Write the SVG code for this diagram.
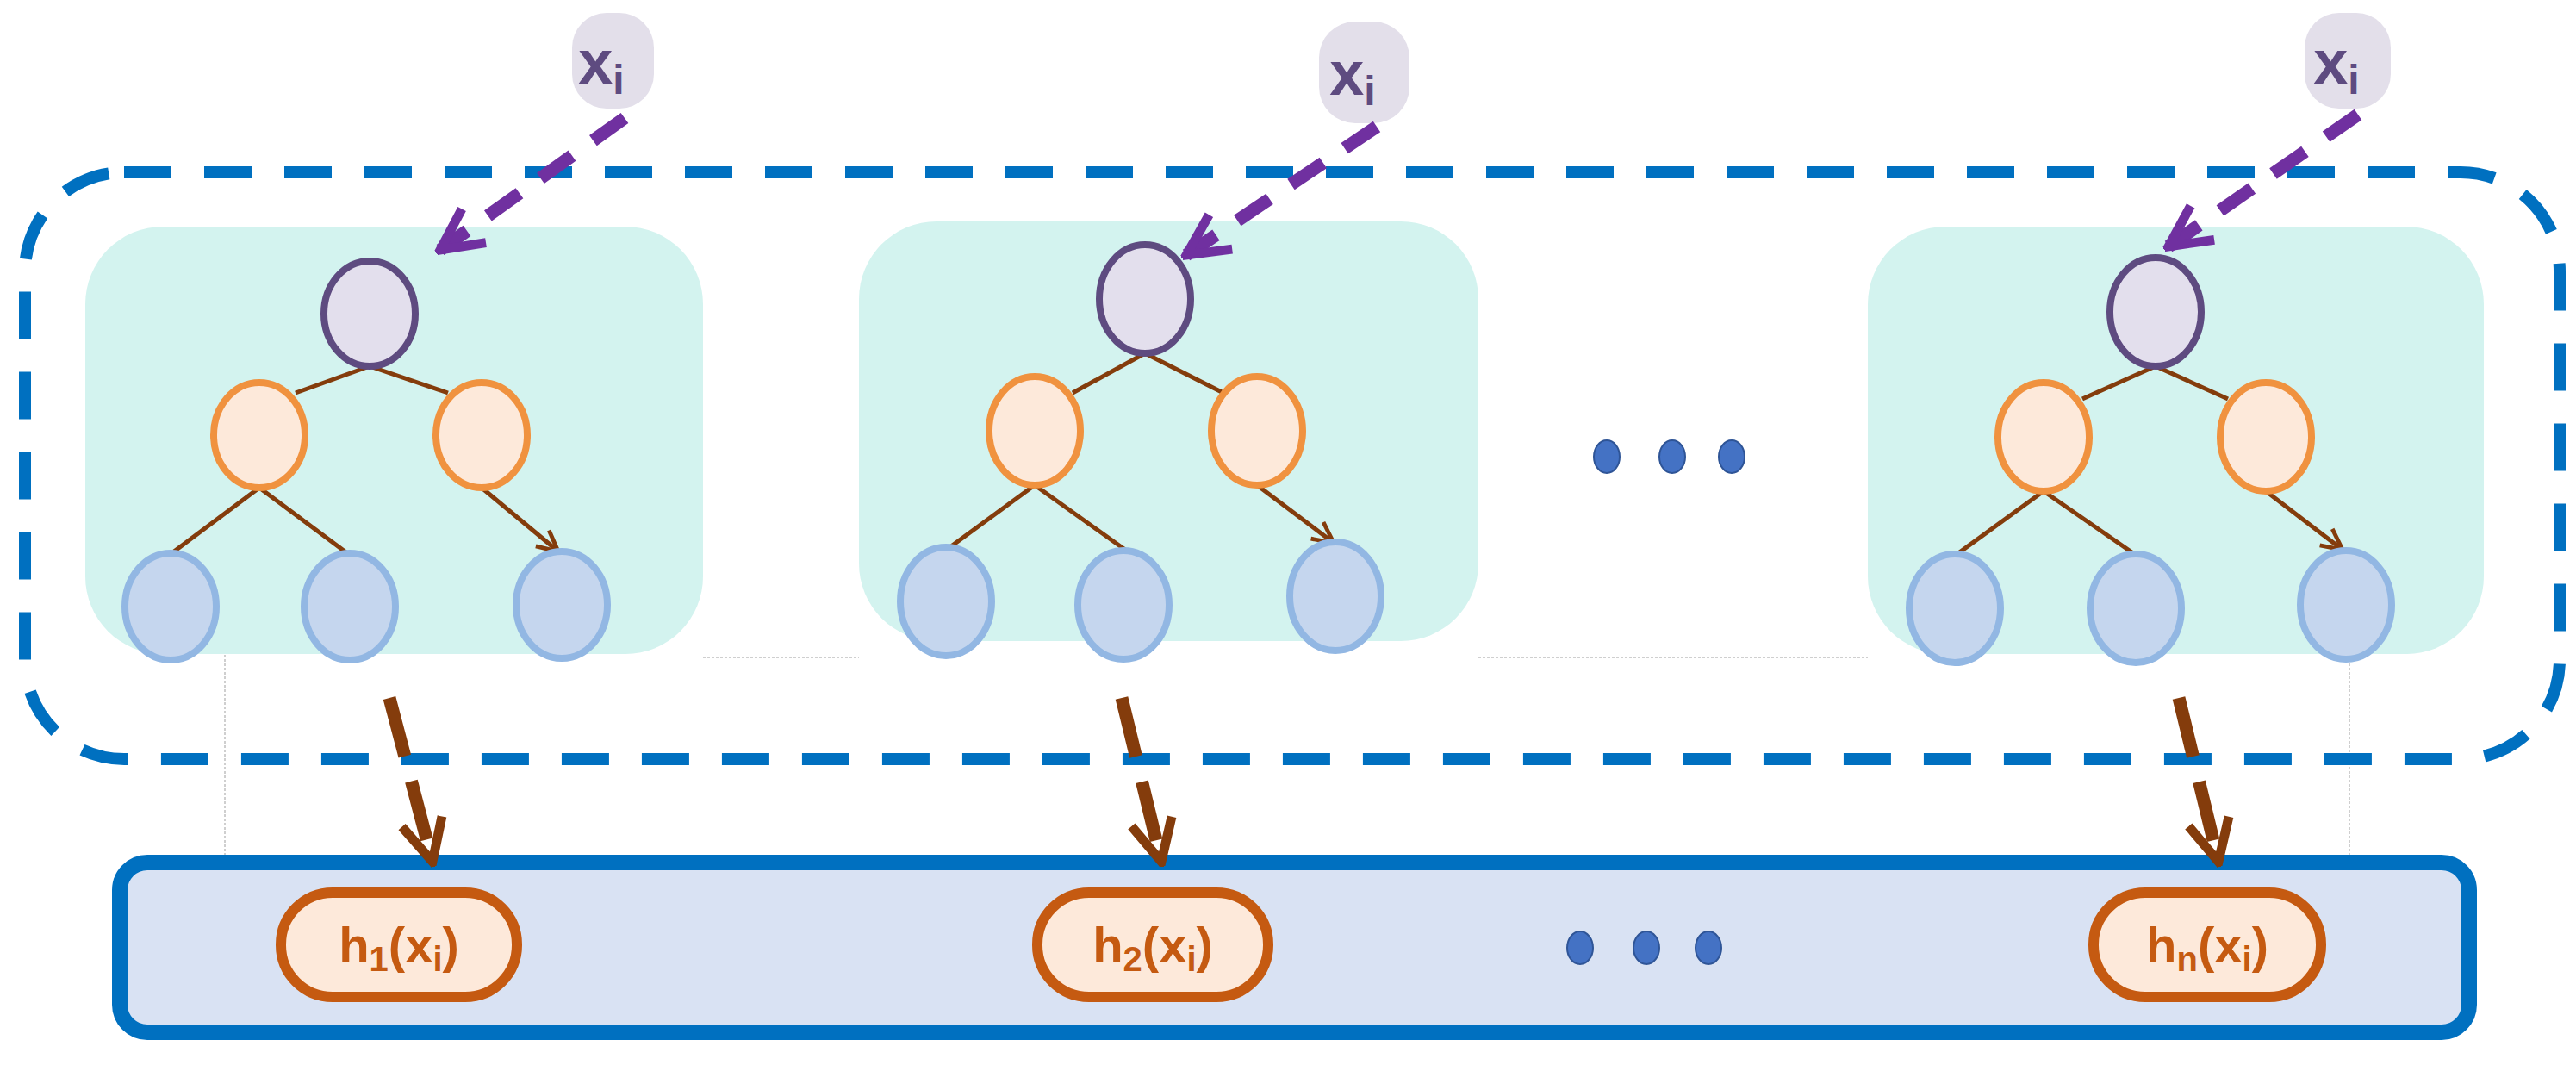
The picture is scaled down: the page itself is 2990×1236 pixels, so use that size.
<svg xmlns="http://www.w3.org/2000/svg" width="2990" height="1236" viewBox="0 0 2990 1236">
<defs>
<style>
.panel{fill:#d3f3ef}
.root{fill:#e3dfed;stroke:#5e4b80;stroke-width:8}
.mid{fill:#fde9da;stroke:#f0923f;stroke-width:8}
.leaf{fill:#c5d6ee;stroke:#92b7e3;stroke-width:8}
.edge{stroke:#843c0c;stroke-width:5;fill:none;marker-end:url(#ah)}
.xin{fill:#e3dfea}
.xit{font-family:"Liberation Sans",Arial,sans-serif;font-weight:bold;fill:#5e4b80;font-size:72px}
.hbox{fill:#fde9da;stroke:#c55a11;stroke-width:12}
.ht{font-family:"Liberation Sans",Arial,sans-serif;font-weight:bold;fill:#c55a11;font-size:58px}
.pin{stroke:#7030a0;stroke-width:15;stroke-dasharray:45 30;fill:none}
.pout{stroke:#843c0c;stroke-width:15;stroke-dasharray:70 30;fill:none}
.dot{fill:#4472c4;stroke:#2f5597;stroke-width:2}
.guide{stroke:#c0c0c0;stroke-width:1.5;stroke-dasharray:3 2;fill:none}
</style>
<marker id="ah" viewBox="0 0 10 10" refX="9" refY="5" markerWidth="6" markerHeight="6" orient="auto" markerUnits="strokeWidth"><path d="M1 1 L9 5 L1 9" fill="none" stroke="#843c0c" stroke-width="1.6"/></marker>
<marker id="ap" viewBox="0 0 10 10" refX="9" refY="5" markerWidth="4" markerHeight="4" orient="auto" markerUnits="strokeWidth"><path d="M1 1 L9 5 L1 9" fill="none" stroke="#7030a0" stroke-width="1.8"/></marker>
<marker id="ab" viewBox="0 0 10 10" refX="9" refY="5" markerWidth="4" markerHeight="4" orient="auto" markerUnits="strokeWidth"><path d="M1 1 L9 5 L1 9" fill="none" stroke="#843c0c" stroke-width="1.8"/></marker>
</defs>
<rect width="2990" height="1236" fill="#fff"/>
<g id="guides">
<path class="guide" d="M261 760 V995 M2727 755 V995 M816 763 H997 M1716 763 H2168"/>
</g>
<g id="ensemble"><rect x="29" y="200" width="2942" height="681" rx="115" fill="none" stroke="#0070c0" stroke-width="14" stroke-dasharray="55 38"/></g>
<g id="bar"><rect x="139" y="1001" width="2727" height="197" rx="32" fill="#d9e2f3" stroke="#0070c0" stroke-width="18"/></g>
<g id="tree1">
<rect class="panel" x="99" y="263" width="717" height="496" rx="90"/>
<path class="edge" d="M429 425 L343 456 M429 425 L520 456 M301 566 L202 640 M301 566 L403 642 M559 566 L648 640"/>
<ellipse class="root" cx="429" cy="364" rx="53" ry="61"/>
<ellipse class="mid" cx="301" cy="505" rx="53" ry="61"/>
<ellipse class="mid" cx="559" cy="505" rx="53" ry="61"/>
<ellipse class="leaf" cx="198" cy="704" rx="53" ry="62"/>
<ellipse class="leaf" cx="406" cy="704" rx="53" ry="62"/>
<ellipse class="leaf" cx="652" cy="702" rx="53" ry="62"/>
</g>
<g id="tree2">
<rect class="panel" x="997" y="257" width="719" height="487" rx="90"/>
<path class="edge" d="M1329 410 L1245 456 M1329 410 L1418 455 M1201 563 L1104 634 M1201 563 L1306 638 M1459 563 L1548 630"/>
<ellipse class="root" cx="1329" cy="347" rx="53" ry="63"/>
<ellipse class="mid" cx="1201" cy="500" rx="53" ry="63"/>
<ellipse class="mid" cx="1459" cy="500" rx="53" ry="63"/>
<ellipse class="leaf" cx="1098" cy="698" rx="53" ry="63"/>
<ellipse class="leaf" cx="1304" cy="702" rx="53" ry="63"/>
<ellipse class="leaf" cx="1550" cy="692" rx="53" ry="63"/>
</g>
<g id="tree3">
<rect class="panel" x="2168" y="263" width="715" height="496" rx="90"/>
<path class="edge" d="M2502 425 L2417 463 M2502 425 L2586 463 M2372 570 L2273 642 M2372 570 L2476 642 M2630 570 L2719 638"/>
<ellipse class="root" cx="2502" cy="362" rx="53" ry="63"/>
<ellipse class="mid" cx="2372" cy="507" rx="53" ry="63"/>
<ellipse class="mid" cx="2630" cy="507" rx="53" ry="63"/>
<ellipse class="leaf" cx="2269" cy="706" rx="53" ry="63"/>
<ellipse class="leaf" cx="2479" cy="706" rx="53" ry="63"/>
<ellipse class="leaf" cx="2723" cy="702" rx="53" ry="63"/>
</g>
<g id="dots-top"><ellipse class="dot" cx="1865" cy="530" rx="15" ry="19"/><ellipse class="dot" cx="1941" cy="530" rx="15" ry="19"/><ellipse class="dot" cx="2010" cy="530" rx="15" ry="19"/></g>
<g id="dots-bottom"><ellipse class="dot" cx="1834" cy="1100" rx="15" ry="19"/><ellipse class="dot" cx="1911" cy="1100" rx="15" ry="19"/><ellipse class="dot" cx="1983" cy="1100" rx="15" ry="19"/></g>
<g id="x1"><rect class="xin" x="664" y="15" width="95" height="111" rx="40"/><text class="xit" x="698" y="97" text-anchor="middle">x<tspan font-size="48" dy="12">i</tspan></text></g>
<g id="x2"><rect class="xin" x="1531" y="25" width="105" height="118" rx="42"/><text class="xit" x="1570" y="110" text-anchor="middle">x<tspan font-size="48" dy="12">i</tspan></text></g>
<g id="x3"><rect class="xin" x="2675" y="15" width="100" height="111" rx="40"/><text class="xit" x="2712" y="97" text-anchor="middle">x<tspan font-size="48" dy="12">i</tspan></text></g>
<g id="h1"><rect class="hbox" x="326" y="1036" width="274" height="121" rx="60"/><text class="ht" x="463" y="1117" text-anchor="middle">h<tspan font-size="40" dy="10">1</tspan><tspan dy="-10">(x</tspan><tspan font-size="40" dy="10">i</tspan><tspan dy="-10">)</tspan></text></g>
<g id="h2"><rect class="hbox" x="1204" y="1036" width="268" height="121" rx="60"/><text class="ht" x="1338" y="1117" text-anchor="middle">h<tspan font-size="40" dy="10">2</tspan><tspan dy="-10">(x</tspan><tspan font-size="40" dy="10">i</tspan><tspan dy="-10">)</tspan></text></g>
<g id="hn"><rect class="hbox" x="2430" y="1036" width="264" height="121" rx="60"/><text class="ht" x="2562" y="1117" text-anchor="middle">h<tspan font-size="40" dy="10">n</tspan><tspan dy="-10">(x</tspan><tspan font-size="40" dy="10">i</tspan><tspan dy="-10">)</tspan></text></g>
<g id="connectors">
<path class="pin" marker-end="url(#ap)" d="M725 137 L511 290"/>
<path class="pin" marker-end="url(#ap)" d="M1598 147 L1377 296"/>
<path class="pin" marker-end="url(#ap)" d="M2737 133 L2517 286"/>
<path class="pout" marker-end="url(#ab)" d="M452 810 L502 1000"/>
<path class="pout" marker-end="url(#ab)" d="M1302 810 L1348 1000"/>
<path class="pout" marker-end="url(#ab)" d="M2529 810 L2575 1000"/>
</g>
</svg>
